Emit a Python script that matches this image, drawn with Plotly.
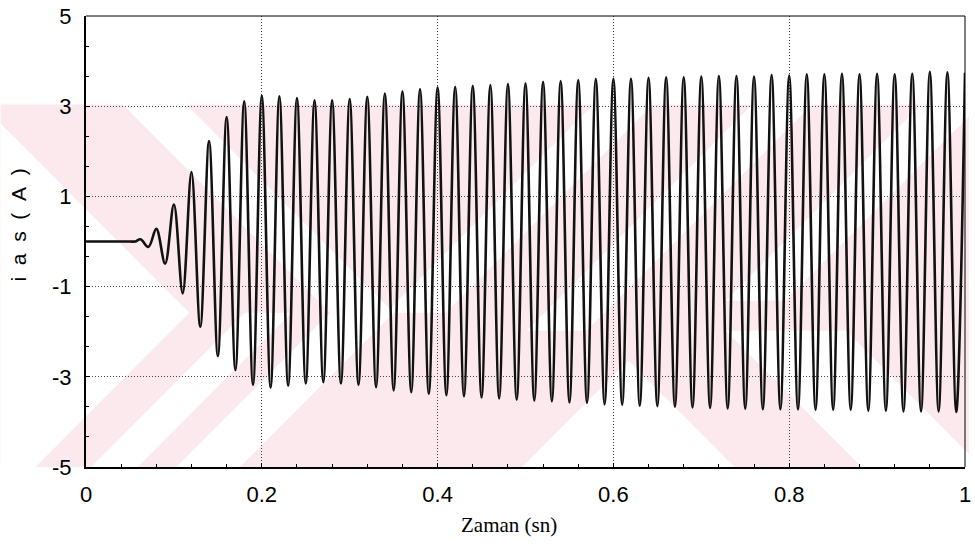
import plotly.graph_objects as go

# ---- data: phase current ias (A) vs time (s), read at the waveform's turning points ----
time_s = [0.0, 0.05, 0.056, 0.062, 0.071,
          0.08, 0.09, 0.10, 0.11, 0.12, 0.13, 0.14, 0.15, 0.16, 0.17,
          0.18, 0.19, 0.20, 0.21, 0.22, 0.23, 0.24, 0.25, 0.26, 0.27,
          0.28, 0.29, 0.30, 0.31, 0.32, 0.33, 0.34, 0.35, 0.36, 0.37,
          0.38, 0.39, 0.40, 0.41, 0.42, 0.43, 0.44, 0.45, 0.46, 0.47,
          0.48, 0.49, 0.50, 0.51, 0.52, 0.53, 0.54, 0.55, 0.56, 0.57,
          0.58, 0.59, 0.60, 0.61, 0.62, 0.63, 0.64, 0.65, 0.66, 0.67,
          0.68, 0.69, 0.70, 0.71, 0.72, 0.73, 0.74, 0.75, 0.76, 0.77,
          0.78, 0.79, 0.80, 0.81, 0.82, 0.83, 0.84, 0.85, 0.86, 0.87,
          0.88, 0.89, 0.90, 0.91, 0.92, 0.93, 0.94, 0.95, 0.96, 0.97,
          0.98, 0.99, 1.00]
current_A = [0.0, 0.0, 0.0, 0.05, -0.12,
             0.28, -0.49, 0.82, -1.15, 1.54, -1.89, 2.23, -2.54, 2.76, -2.85,
             3.11, -3.18, 3.23, -3.24, 3.22, -3.20, 3.18, -3.15, 3.13, -3.12,
             3.13, -3.15, 3.16, -3.18, 3.21, -3.23, 3.28, -3.30, 3.33, -3.34,
             3.38, -3.38, 3.42, -3.41, 3.43, -3.43, 3.45, -3.46, 3.47, -3.48,
             3.49, -3.51, 3.51, -3.53, 3.54, -3.54, 3.56, -3.57, 3.58, -3.58,
             3.60, -3.61, 3.61, -3.62, 3.61, -3.64, 3.63, -3.65, 3.64, -3.66,
             3.64, -3.68, 3.66, -3.69, 3.67, -3.70, 3.67, -3.71, 3.66, -3.72,
             3.69, -3.72, 3.68, -3.72, 3.71, -3.73, 3.71, -3.73, 3.72, -3.73,
             3.71, -3.75, 3.72, -3.75, 3.71, -3.77, 3.72, -3.77, 3.76, -3.77,
             3.75, -3.78, 3.74]

x_tick_vals = [0, 0.2, 0.4, 0.6, 0.8, 1]
x_tick_text = ["0", "0.2", "0.4", "0.6", "0.8", "1"]
y_tick_vals = [-5, -3, -1, 1, 3, 5]
y_tick_text = ["-5", "-3", "-1", "1", "3", "5"]

x_title = "Zaman (sn)"
NB = "\u00a0\u00a0"
y_title = NB.join(["i", "a", "s", "(", "A", ")"])

# ---- page geometry ----
W, H = 975, 548
L, R, T, B = 86, 4, 14, 81
PW, PH = W - L - R, H - T - B


def to_paper(pts):
    return [((px - L) / PW, (T + PH - py) / PH) for px, py in pts]


def clip(poly, xmin, xmax, ymin, ymax):
    def clip_edge(pts, inside, inter):
        out = []
        n = len(pts)
        for i in range(n):
            cur, prev = pts[i], pts[i - 1]
            if inside(cur):
                if not inside(prev):
                    out.append(inter(prev, cur))
                out.append(cur)
            elif inside(prev):
                out.append(inter(prev, cur))
        return out

    def ix(a, b, xv):
        t = (xv - a[0]) / (b[0] - a[0])
        return (xv, a[1] + t * (b[1] - a[1]))

    def iy(a, b, yv):
        t = (yv - a[1]) / (b[1] - a[1])
        return (a[0] + t * (b[0] - a[0]), yv)

    p = poly
    p = clip_edge(p, lambda q: q[0] >= xmin, lambda a, b: ix(a, b, xmin)) if p else p
    p = clip_edge(p, lambda q: q[0] <= xmax, lambda a, b: ix(a, b, xmax)) if p else p
    p = clip_edge(p, lambda q: q[1] >= ymin, lambda a, b: iy(a, b, ymin)) if p else p
    p = clip_edge(p, lambda q: q[1] <= ymax, lambda a, b: iy(a, b, ymax)) if p else p
    return p


WM_TOP, WM_BOT = 103, 467
AXIS_Y = 312


def chevron_right(c1, c2, yc=AXIS_Y, s=600):
    # ">" shaped band, tips at x=c1..c2 on the line y=yc
    return [(c1 - s, yc - s), (c2 - s, yc - s), (c2, yc), (c2 - s, yc + s), (c1 - s, yc + s), (c1, yc)]


def slash_band(k1, k2, ya, yb):
    # "/" band: k1 <= x + y <= k2, for ya <= y <= yb
    return [(k1 - ya, ya), (k2 - ya, ya), (k2 - yb, yb), (k1 - yb, yb)]


def back_band(k1, k2, ya, yb):
    # "\" band: k1 <= y - x <= k2, for ya <= y <= yb
    return [(ya - k1, ya), (ya - k2, ya), (yb - k2, yb), (yb - k1, yb)]


PINK = "#fce9ed"
shapes = []


def add_poly(pts, color):
    pts = clip(pts, 0, W, WM_TOP, WM_BOT)
    if len(pts) < 3:
        return
    pp = to_paper(pts)
    path = "M " + " L ".join(f"{x:.5f},{y:.5f}" for x, y in pp) + " Z"
    shapes.append(dict(type="path", path=path, xref="paper", yref="paper",
                       fillcolor=color, line=dict(width=0), layer="below"))


# pink background watermark with white breaks
add_poly([(0, WM_TOP), (W, WM_TOP), (W, WM_BOT), (0, WM_BOT)], PINK)
add_poly(chevron_right(-2000, 190), "white")
add_poly(chevron_right(332, 396), "white")
add_poly(slash_band(558, 605, 312, 467), "white")
add_poly(slash_band(700, 760, 103, 312), "white")
add_poly(slash_band(860, 920, 103, 330), "white")
add_poly(slash_band(1030, 1090, 103, 300), "white")
add_poly([(632, 360), (760, 488), (504, 488)], "white")
add_poly(back_band(-521, -400, 330, 467), "white")

# frame top/right (thin)
shapes.append(dict(type="line", xref="paper", yref="paper", x0=0, x1=1, y0=1, y1=1,
                   line=dict(color="black", width=1), layer="above"))
shapes.append(dict(type="line", xref="paper", yref="paper", x0=1, x1=1, y0=0, y1=1,
                   line=dict(color="black", width=1), layer="above"))

fig = go.Figure()
fig.add_trace(go.Scatter(
    x=time_s, y=current_A, mode="lines",
    line=dict(color="#111111", width=2.6, shape="spline", smoothing=1.0),
    hoverinfo="skip", showlegend=False))

tick_font = dict(family="Liberation Sans, Arial, sans-serif", size=22, color="black")
GRID_DASH = "1px,2px"

fig.update_layout(
    width=W, height=H, autosize=False,
    margin=dict(l=L, r=R, t=T, b=B, pad=0),
    paper_bgcolor="white", plot_bgcolor="rgba(0,0,0,0)",
    shapes=shapes,
    showlegend=False,
    xaxis=dict(range=[0, 1], tickmode="array", tickvals=x_tick_vals, ticktext=x_tick_text,
               ticks="inside", ticklen=4, tickwidth=1, tickcolor="black",
               showline=True, linewidth=2, linecolor="black", mirror=False,
               showgrid=True, gridcolor="#444444", gridwidth=1, griddash=GRID_DASH,
               zeroline=False, tickfont=tick_font, ticklabelstandoff=7,
               ticklabeloverflow="allow",
               minor=dict(dtick=0.04, tick0=0, ticks="inside", ticklen=3,
                          tickcolor="black", showgrid=False)),
    yaxis=dict(range=[-5, 5], tickmode="array", tickvals=y_tick_vals, ticktext=y_tick_text,
               ticks="inside", ticklen=4, tickwidth=1, tickcolor="black",
               showline=True, linewidth=2, linecolor="black", mirror=False,
               showgrid=True, gridcolor="#444444", gridwidth=1, griddash=GRID_DASH,
               zeroline=False, tickfont=tick_font, ticklabelstandoff=8,
               ticklabeloverflow="allow",
               minor=dict(dtick=2 / 3, tick0=-5, ticks="inside", ticklen=3,
                          tickcolor="black", showgrid=False)),
    annotations=[
        dict(text=x_title, xref="paper", yref="paper",
             x=(512 - L) / PW, y=(T + PH - 525) / PH, xanchor="center", yanchor="middle",
             showarrow=False,
             font=dict(family="Liberation Serif, Times New Roman, serif", size=21, color="black")),
        dict(text=y_title, xref="paper", yref="paper",
             x=(18 - L) / PW, y=(T + PH - 224) / PH, xanchor="center", yanchor="middle",
             textangle=-90, showarrow=False,
             font=dict(family="Liberation Sans, Arial, sans-serif", size=21, color="black")),
    ],
)

fig.write_html("out.html")
